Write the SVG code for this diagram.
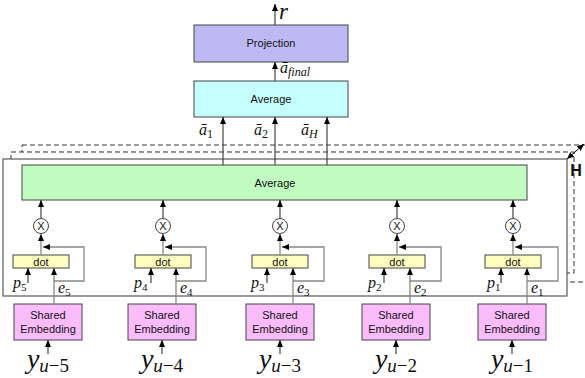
<svg xmlns="http://www.w3.org/2000/svg" width="585" height="378" viewBox="0 0 585 378">
<defs>
<marker id="ah" markerUnits="userSpaceOnUse" markerWidth="7" markerHeight="6" refX="7" refY="3" orient="auto"><path d="M0,0 L7,3 L0,6 z" fill="#000"/></marker>
<marker id="ahs" markerUnits="userSpaceOnUse" markerWidth="7" markerHeight="6" refX="0" refY="3" orient="auto"><path d="M7,0 L0,3 L7,6 z" fill="#000"/></marker>
<style>
.box{stroke:#444;stroke-width:1}
.lbl{font-family:"Liberation Sans",Arial,sans-serif;font-size:11px;fill:#111;text-anchor:middle}
.math{font-family:"Liberation Serif","Times New Roman",serif;font-style:italic;fill:#111}
.sub{font-family:"Liberation Serif","Times New Roman",serif;fill:#111}
.ar{stroke:#444;stroke-width:1.2;fill:none;marker-end:url(#ah)}
.ag{stroke:#888;stroke-width:1.3;fill:none;marker-end:url(#ah)}
.dash{fill:#fff;stroke:#333;stroke-width:1;stroke-dasharray:5,3}
</style>
</defs>
<rect width="585" height="378" fill="#fff"/>
<g id="frames">
<rect class="dash" x="22" y="145" width="600" height="137"/>
<rect class="dash" x="11" y="152" width="563" height="121"/>
<rect x="3" y="159" width="564" height="137" fill="#fff" stroke="#666" stroke-width="1.3"/>
<text x="576" y="176" font-family="Liberation Sans,Arial,sans-serif" font-size="16" font-weight="bold" text-anchor="middle" fill="#111">H</text>
</g>
<g id="projection"><rect class="box" x="194" y="25" width="154" height="37" fill="#beb9f5"/><text class="lbl" x="271" y="47">Projection</text></g>
<g id="average-top"><rect class="box" x="194" y="81" width="154" height="36" fill="#c6fdfd"/><text class="lbl" x="271" y="103">Average</text></g>
<g id="average-inner"><rect class="box" x="22" y="165" width="505" height="35" fill="#c0fcc0"/><text class="lbl" x="275" y="187">Average</text></g>
<g id="mul1"><circle cx="41" cy="226" r="7.5" fill="#fff" stroke="#444"/><text class="lbl" x="41" y="230" font-size="12">X</text></g>
<g id="mul2"><circle cx="163" cy="226" r="7.5" fill="#fff" stroke="#444"/><text class="lbl" x="163" y="230" font-size="12">X</text></g>
<g id="mul3"><circle cx="280" cy="226" r="7.5" fill="#fff" stroke="#444"/><text class="lbl" x="280" y="230" font-size="12">X</text></g>
<g id="mul4"><circle cx="397" cy="226" r="7.5" fill="#fff" stroke="#444"/><text class="lbl" x="397" y="230" font-size="12">X</text></g>
<g id="mul5"><circle cx="513" cy="226" r="7.5" fill="#fff" stroke="#444"/><text class="lbl" x="513" y="230" font-size="12">X</text></g>
<g id="dot1"><rect class="box" x="13" y="255" width="56" height="13" fill="#fdfdc0"/><text class="lbl" x="41" y="265.5" font-size="12">dot</text></g>
<g id="dot2"><rect class="box" x="135" y="255" width="56" height="13" fill="#fdfdc0"/><text class="lbl" x="163" y="265.5" font-size="12">dot</text></g>
<g id="dot3"><rect class="box" x="252" y="255" width="56" height="13" fill="#fdfdc0"/><text class="lbl" x="280" y="265.5" font-size="12">dot</text></g>
<g id="dot4"><rect class="box" x="369" y="255" width="56" height="13" fill="#fdfdc0"/><text class="lbl" x="397" y="265.5" font-size="12">dot</text></g>
<g id="dot5"><rect class="box" x="485" y="255" width="56" height="13" fill="#fdfdc0"/><text class="lbl" x="513" y="265.5" font-size="12">dot</text></g>
<g id="emb1"><rect class="box" x="14" y="304" width="68" height="36" fill="#fbbcfb"/><text class="lbl" x="48" y="319">Shared</text><text class="lbl" x="48" y="333">Embedding</text></g>
<g id="emb2"><rect class="box" x="128" y="304" width="68" height="36" fill="#fbbcfb"/><text class="lbl" x="162" y="319">Shared</text><text class="lbl" x="162" y="333">Embedding</text></g>
<g id="emb3"><rect class="box" x="246" y="304" width="68" height="36" fill="#fbbcfb"/><text class="lbl" x="280" y="319">Shared</text><text class="lbl" x="280" y="333">Embedding</text></g>
<g id="emb4"><rect class="box" x="362" y="304" width="68" height="36" fill="#fbbcfb"/><text class="lbl" x="396" y="319">Shared</text><text class="lbl" x="396" y="333">Embedding</text></g>
<g id="emb5"><rect class="box" x="478" y="304" width="68" height="36" fill="#fbbcfb"/><text class="lbl" x="512" y="319">Shared</text><text class="lbl" x="512" y="333">Embedding</text></g>
<g id="connectors">
<line class="ar" x1="275" y1="25" x2="275" y2="4"/>
<line class="ar" x1="275" y1="81" x2="275" y2="62"/>
<line class="ar" x1="223" y1="165" x2="223" y2="117"/>
<line class="ar" x1="275" y1="165" x2="275" y2="117"/>
<line class="ar" x1="327" y1="165" x2="327" y2="117"/>
<line x1="567" y1="159" x2="584" y2="144" stroke="#000" stroke-width="1" marker-end="url(#ah)" marker-start="url(#ahs)"/>
<line class="ar" x1="41" y1="218" x2="41" y2="200"/><line class="ag" x1="41" y1="255" x2="41" y2="234"/><polyline class="ag" points="54,281 84,281 84,247 43,247"/><line class="ag" x1="54" y1="304" x2="54" y2="268"/><line class="ar" x1="28" y1="283" x2="28" y2="268"/><line class="ar" x1="48" y1="354" x2="48" y2="340"/>
<line class="ar" x1="163" y1="218" x2="163" y2="200"/><line class="ag" x1="163" y1="255" x2="163" y2="234"/><polyline class="ag" points="176,281 206,281 206,247 165,247"/><line class="ag" x1="176" y1="304" x2="176" y2="268"/><line class="ar" x1="151" y1="283" x2="151" y2="268"/><line class="ar" x1="162" y1="354" x2="162" y2="340"/>
<line class="ar" x1="280" y1="218" x2="280" y2="200"/><line class="ag" x1="280" y1="255" x2="280" y2="234"/><polyline class="ag" points="293,281 324,281 324,247 282,247"/><line class="ag" x1="293" y1="304" x2="293" y2="268"/><line class="ar" x1="267" y1="283" x2="267" y2="268"/><line class="ar" x1="280" y1="354" x2="280" y2="340"/>
<line class="ar" x1="397" y1="218" x2="397" y2="200"/><line class="ag" x1="397" y1="255" x2="397" y2="234"/><polyline class="ag" points="410,281 441,281 441,247 399,247"/><line class="ag" x1="410" y1="304" x2="410" y2="268"/><line class="ar" x1="384" y1="283" x2="384" y2="268"/><line class="ar" x1="396" y1="354" x2="396" y2="340"/>
<line class="ar" x1="513" y1="218" x2="513" y2="200"/><line class="ag" x1="513" y1="255" x2="513" y2="234"/><polyline class="ag" points="527,281 558,281 558,247 515,247"/><line class="ag" x1="527" y1="304" x2="527" y2="268"/><line class="ar" x1="501" y1="283" x2="501" y2="268"/><line class="ar" x1="512" y1="354" x2="512" y2="340"/>
</g>
<g id="labels">
<text class="math" x="279" y="19" font-size="23">r</text>
<text class="math" x="280" y="73" font-size="16">ā<tspan font-size="12" dy="3">final</tspan></text>
<text class="math" x="199" y="135" font-size="16">ā<tspan class="sub" font-style="normal" font-size="12" dy="3">1</tspan></text>
<text class="math" x="254" y="135" font-size="16">ā<tspan class="sub" font-style="normal" font-size="12" dy="3">2</tspan></text>
<text class="math" x="301" y="135" font-size="16">ā<tspan font-size="12" dy="3">H</tspan></text>
<text class="math" x="13" y="288" font-size="16">p<tspan class="sub" font-style="normal" font-size="11" dy="3">5</tspan></text>
<text class="math" x="58" y="293" font-size="16">e<tspan class="sub" font-style="normal" font-size="11" dy="3">5</tspan></text>
<text class="math" x="134" y="288" font-size="16">p<tspan class="sub" font-style="normal" font-size="11" dy="3">4</tspan></text>
<text class="math" x="180" y="293" font-size="16">e<tspan class="sub" font-style="normal" font-size="11" dy="3">4</tspan></text>
<text class="math" x="251" y="288" font-size="16">p<tspan class="sub" font-style="normal" font-size="11" dy="3">3</tspan></text>
<text class="math" x="297" y="293" font-size="16">e<tspan class="sub" font-style="normal" font-size="11" dy="3">3</tspan></text>
<text class="math" x="368" y="288" font-size="16">p<tspan class="sub" font-style="normal" font-size="11" dy="3">2</tspan></text>
<text class="math" x="414" y="293" font-size="16">e<tspan class="sub" font-style="normal" font-size="11" dy="3">2</tspan></text>
<text class="math" x="487" y="288" font-size="16">p<tspan class="sub" font-style="normal" font-size="11" dy="3">1</tspan></text>
<text class="math" x="531" y="293" font-size="16">e<tspan class="sub" font-style="normal" font-size="11" dy="3">1</tspan></text>
<text class="math" x="48" y="368" font-size="28" text-anchor="middle">y<tspan font-size="19" dy="4">u</tspan><tspan class="sub" font-style="normal" font-size="19">−5</tspan></text>
<text class="math" x="162" y="368" font-size="28" text-anchor="middle">y<tspan font-size="19" dy="4">u</tspan><tspan class="sub" font-style="normal" font-size="19">−4</tspan></text>
<text class="math" x="280" y="368" font-size="28" text-anchor="middle">y<tspan font-size="19" dy="4">u</tspan><tspan class="sub" font-style="normal" font-size="19">−3</tspan></text>
<text class="math" x="396" y="368" font-size="28" text-anchor="middle">y<tspan font-size="19" dy="4">u</tspan><tspan class="sub" font-style="normal" font-size="19">−2</tspan></text>
<text class="math" x="512" y="368" font-size="28" text-anchor="middle">y<tspan font-size="19" dy="4">u</tspan><tspan class="sub" font-style="normal" font-size="19">−1</tspan></text>
</g>
</svg>
